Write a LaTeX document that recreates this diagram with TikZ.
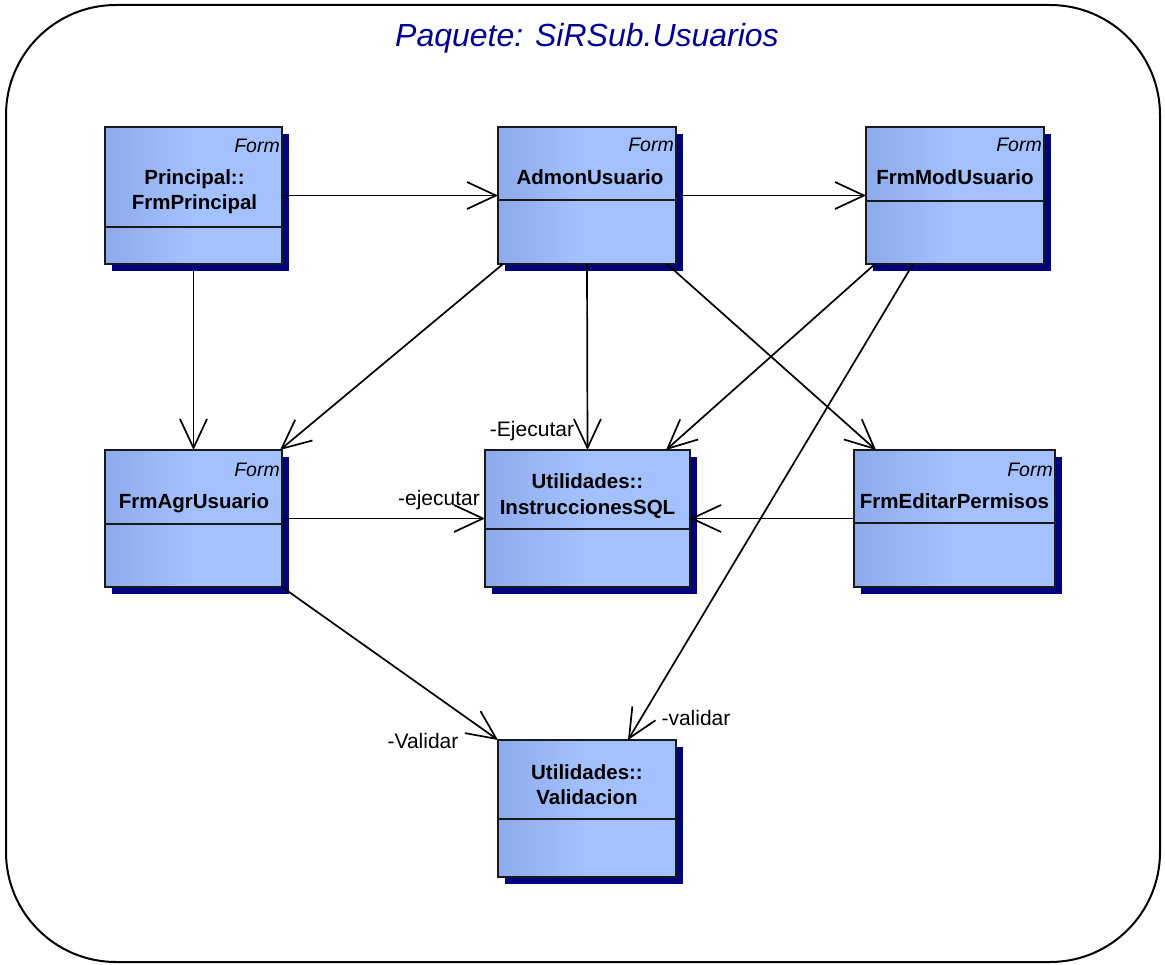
\documentclass[tikz,border=0pt]{standalone}
\usepackage{fontspec}
\setmainfont{Liberation Sans}
\usetikzlibrary{arrows.meta,calc}
\definecolor{boxL}{RGB}{141,171,236}
\definecolor{boxR}{RGB}{164,193,255}
\definecolor{shadowc}{RGB}{0,0,128}
\definecolor{titlec}{RGB}{0,0,150}
\definecolor{boxline}{RGB}{25,25,25}
\begin{document}
\begin{tikzpicture}[x=1pt,y=-1pt,
  clsbox/.style={draw=boxline, line width=1.8pt, left color=boxL, right color=boxR, middle color=boxR,
    inner sep=0pt, outer sep=0pt, anchor=north west},
  shadowbox/.style={fill=shadowc, draw=none},
  divline/.style={draw=boxline, line width=1.8pt},
  formlbl/.style={font=\itshape\fontsize{19.5}{22}\selectfont, anchor=base east, inner sep=0pt},
  clsname/.style={font=\bfseries\fontsize{20.5}{25}\selectfont, align=center, anchor=base, inner sep=0pt},
  rolelbl/.style={font=\fontsize{21}{24}\selectfont, anchor=base, inner sep=0pt},
  assoc/.style={draw=black, line width=1.7pt, -{Straight Barb[length=29pt,width=27pt,line width=1.7pt]}},
  frame/.style={draw=black, line width=2pt, rounded corners=110pt}
]
\useasboundingbox (0,0) rectangle (1165,965);
\path[frame] (6,5) rectangle (1160,962);
\node[font=\itshape\fontsize{32}{36}\selectfont, text=titlec] (title) at (587,38) {Paquete: SiRSub.Usuarios};

% #1 name, #2 x, #3 y, #4 w, #5 h, #6 divider offset
\newcommand\umlcls[6]{%
  \fill[shadowbox] ({#2+7},{#3+7}) rectangle ++(#4,#5);
  \node[clsbox, minimum width=#4 pt, minimum height=#5 pt] (#1) at (#2,#3) {};
  \draw[divline] (#2,{#3+#6}) -- ++(#4,0);
}

\umlcls{p}{105}{127}{177}{137}{100}
\umlcls{a}{498}{127}{178}{137}{73}
\umlcls{m}{866}{127}{178}{137}{74}
\umlcls{g}{105}{450}{177}{137}{74}
\umlcls{s}{485}{450}{205}{137}{79}
\umlcls{e}{854}{450}{201}{137}{73}
\umlcls{v}{498}{740}{178}{137}{79}

% stereotypes
\node[formlbl] (pF) at (280,153) {Form};
\node[formlbl] (aF) at (674,152) {Form};
\node[formlbl] (mF) at (1042,152) {Form};
\node[formlbl] (gF) at (280,476) {Form};
\node[formlbl] (eF) at (1053,476) {Form};

% names (anchor = baseline of last line)
\node[clsname] (pN) at (194.5,210) {Principal::\\FrmPrincipal};
\node[clsname] (aN) at (590,185) {AdmonUsuario};
\node[clsname] (mN) at (955,185) {FrmModUsuario};
\node[clsname] (gN) at (194,508) {FrmAgrUsuario};
\node[clsname] (sN) at (587.5,514) {Utilidades::\\InstruccionesSQL};
\node[clsname] (eN) at (954.5,508) {FrmEditarPermisos};
\node[clsname] (vN) at (587,804) {Utilidades::\\Validacion};

% connectors
\draw[assoc] (p.east) -- (a.west);
\draw[assoc] (a.east) -- (m.west);
\draw[assoc] (p.south) -- (g.north);
\draw[assoc] ([xshift=5pt]a.south west) -- ([xshift=-2pt]g.north east);
\draw[assoc] (a.south) -- (s.north);
\draw[assoc] ([xshift=-9pt]a.south east) -- ([xshift=22pt]e.north west);
\draw[assoc] ([xshift=9pt]m.south west) -- ([xshift=-24pt]s.north east);
\draw[assoc] ([xshift=47pt]m.south west) -- ([xshift=-48pt]v.north east);
\draw[assoc] (g.east) -- (s.west);
\draw[assoc] (e.west) -- (s.east);
\draw[assoc] (g.south east) -- (v.north west);

% role labels
\node[rolelbl] (lE) at (532,437) {-Ejecutar};
\node[rolelbl] (le) at (439,505) {-ejecutar};
\node[rolelbl] (lv) at (696,725) {-validar};
\node[rolelbl] (lV) at (423,748) {-Validar};
\end{tikzpicture}
\end{document}
